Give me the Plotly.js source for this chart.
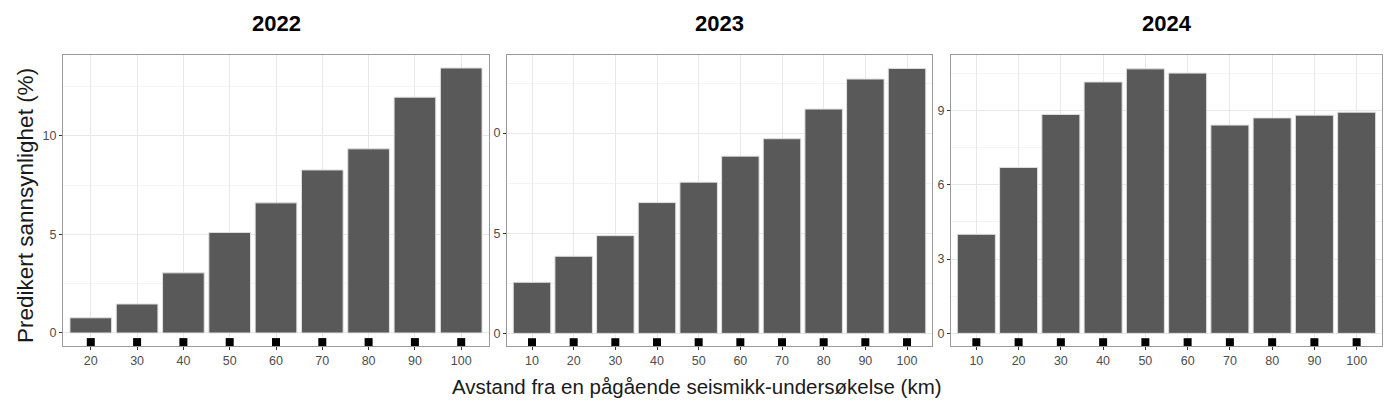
<!DOCTYPE html>
<html>
<head>
<meta charset="utf-8">
<script src="https://cdn.plot.ly/plotly-3.0.1.min.js"></script>
<style>
  body { margin: 0; background: #fff; }
  #chart { width: 1388px; height: 417px; }
</style>
</head>
<body>
<div id="chart"></div>
<script>
// data
var aar = ['2022', '2023', '2024']
var avstand2022 = [20, 30, 40, 50, 60, 70, 80, 90, 100]
var sanns2022 = [0.77, 1.47, 3.05, 5.1, 6.6, 8.27, 9.34, 11.96, 13.44]
var avstand2023 = [10, 20, 30, 40, 50, 60, 70, 80, 90, 100]
var sanns2023 = [2.55, 3.85, 4.88, 6.53, 7.55, 8.85, 9.72, 11.2, 12.7, 13.23]
var avstand2024 = [10, 20, 30, 40, 50, 60, 70, 80, 90, 100]
var sanns2024 = [4.0, 6.7, 8.84, 10.15, 10.68, 10.51, 8.41, 8.7, 8.81, 8.93]
var yTicks2022 = [0, 5, 10]
var yTickText2022 = ['0', '5', '10']
var yTicks2023 = [0, 5, 10]
var yTickText2023 = ['0', '5', '0']
var yTicks2024 = [0, 3, 6, 9]
var yTickText2024 = ['0', '3', '6', '9']

var W = 1388, H = 417
function px(x) { return x / W }
function py(y) { return (H - y) / H }

// panel boxes in pixels: left, right
var paneler = [
    { x: avstand2022, y: sanns2022, l: 63, r: 489, yr: [-0.66, 14.1], tv: yTicks2022, tt: yTickText2022, minor: 2.5 },
    { x: avstand2023, y: sanns2023, l: 507, r: 932, yr: [-0.63, 13.9], tv: yTicks2023, tt: yTickText2023, minor: 2.5 },
    { x: avstand2024, y: sanns2024, l: 951, r: 1382, yr: [-0.51, 11.24], tv: yTicks2024, tt: yTickText2024, minor: 1.5 }
]
var topp = 55, bunn = 346

var data = []
var layout = {
    width: W, height: H,
    margin: { l: 0, r: 0, t: 0, b: 0 },
    paper_bgcolor: '#fff',
    plot_bgcolor: '#fff',
    showlegend: false,
    bargap: 0.1,
    font: { family: 'Liberation Sans, Arial, sans-serif', color: '#4d4d4d', size: 12 },
    annotations: []
}

paneler.forEach((p, i) => {
    var n = i == 0 ? '' : (i + 1)
    var xa = 'x' + n, ya = 'y' + n
    data.push({
        type: 'bar',
        x: p.x,
        y: p.y,
        width: 9,
        xaxis: xa, yaxis: ya,
        marker: { color: '#595959', line: { color: '#e0e0e0', width: 1 } },
        hoverinfo: 'x+y'
    })
    // svarte firkanter under hver stolpe
    var rugY = p.yr[0] * 0.7
    data.push({
        type: 'scatter',
        mode: 'markers',
        x: p.x,
        y: p.x.map(() => rugY),
        xaxis: xa, yaxis: ya,
        cliponaxis: false,
        marker: { symbol: 'square', size: 8, color: '#000' },
        hoverinfo: 'skip'
    })
    var xmin = p.x[0], xmax = p.x[p.x.length - 1]
    layout['xaxis' + n] = {
        domain: [px(p.l), px(p.r)],
        anchor: ya,
        range: [xmin - 6, xmax + 6],
        tickvals: p.x,
        ticks: 'outside', ticklen: 3, tickcolor: '#333',
        showgrid: true, gridcolor: '#e8e8e8', gridwidth: 1,
        zeroline: false,
        showline: true, mirror: true, linecolor: '#9a9a9a', linewidth: 1,
        tickfont: { size: 12.5, color: '#4d4d4d' },
        fixedrange: true
    }
    layout['yaxis' + n] = {
        domain: [py(bunn), py(topp)],
        anchor: xa,
        range: p.yr,
        tickvals: p.tv,
        ticktext: p.tt,
        ticks: 'outside', ticklen: 3, tickcolor: '#333',
        showgrid: true, gridcolor: '#e8e8e8', gridwidth: 1,
        minor: { dtick: p.minor * 2, tick0: p.minor, showgrid: true, gridcolor: '#f3f3f3', gridwidth: 1, ticks: '' },
        zeroline: false,
        showline: true, mirror: true, linecolor: '#9a9a9a', linewidth: 1,
        tickfont: { size: 12.5, color: '#4d4d4d' },
        fixedrange: true
    }
    layout.annotations.push({
        text: '<b>' + aar[i] + '</b>',
        xref: 'paper', yref: 'paper',
        x: px((p.l + p.r) / 2), y: py(24),
        xanchor: 'center', yanchor: 'middle',
        showarrow: false,
        font: { size: 22, color: '#000', family: 'Liberation Sans, Arial, sans-serif' }
    })
})

layout.annotations.push({
    text: 'Avstand fra en pågående seismikk-undersøkelse (km)',
    xref: 'paper', yref: 'paper',
    x: px(697), y: py(386),
    xanchor: 'center', yanchor: 'middle',
    showarrow: false,
    font: { size: 20.5, color: '#1a1a1a' }
})
layout.annotations.push({
    text: 'Predikert sannsynlighet (%)',
    xref: 'paper', yref: 'paper',
    x: px(25), y: py(206),
    xanchor: 'center', yanchor: 'middle',
    textangle: -90,
    showarrow: false,
    font: { size: 22.5, color: '#1a1a1a' }
})

Plotly.newPlot('chart', data, layout, { displayModeBar: false, staticPlot: true })
</script>
</body>
</html>
